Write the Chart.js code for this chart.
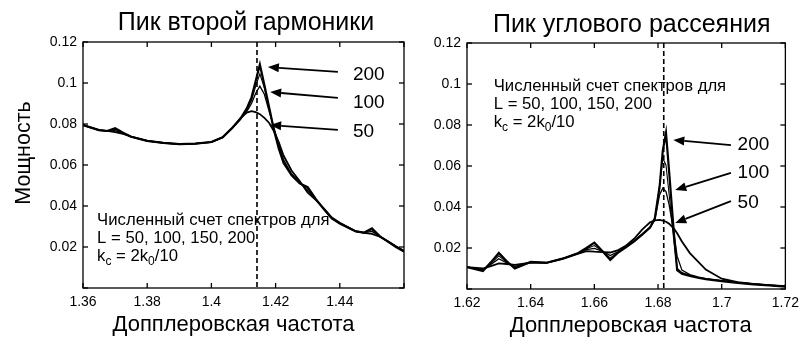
<!DOCTYPE html>
<html><head><meta charset="utf-8">
<script src="https://cdn.jsdelivr.net/npm/chart.js@4"></script>
<style>
html,body{margin:0;padding:0;background:#fff;}
#wrap{position:relative;width:805px;height:339px;overflow:hidden;background:#fff;}
#c1{position:absolute;left:0;top:0;}
#c2{position:absolute;left:410px;top:0;}
</style></head><body>
<div id="wrap"><canvas id="c1" width="410" height="339"></canvas><canvas id="c2" width="395" height="339"></canvas></div>
<script>
// ---------------- DATA ----------------
const leftTitle = 'Пик второй гармоники';
const rightTitle = 'Пик углового рассеяния';
const xTitle = 'Допплеровская частота';
const yTitle = 'Мощность';
const seriesNames = ['L=50', 'L=100', 'L=150', 'L=200'];
const yTickLabels = ['0.02', '0.04', '0.06', '0.08', '0.1', '0.12'];
const leftXTickLabels = ['1.36', '1.38', '1.4', '1.42', '1.44'];
const rightXTickLabels = ['1.62', '1.64', '1.66', '1.68', '1.7', '1.72'];
const arrowLabels = ['200', '100', '50'];
const noteLine1 = 'Численный счет спектров для';
const noteLine2 = 'L = 50, 100, 150, 200';
const noteLine3 = [['k', 0], ['c', 1], [' = 2k', 0], ['0', 1], ['/10', 0]];
const leftMarker = 1.4142;
const rightMarker = 1.6818;

const leftFreq = [1.36, 1.365, 1.3675, 1.37, 1.3725, 1.375, 1.38, 1.385, 1.39, 1.395, 1.40, 1.4035, 1.4065, 1.409, 1.411, 1.4125, 1.4138, 1.4151, 1.4165, 1.418, 1.4195, 1.421, 1.4225, 1.425, 1.4275, 1.43, 1.4325, 1.435, 1.4375, 1.44, 1.4425, 1.445, 1.4475, 1.45, 1.4525, 1.455, 1.4575, 1.46];
const left200 = [0.0795, 0.0770, 0.0766, 0.0779, 0.0757, 0.0738, 0.0718, 0.0708, 0.0702, 0.0704, 0.0712, 0.0735, 0.0780, 0.0825, 0.0875, 0.0930, 0.1010, 0.1090, 0.0990, 0.0880, 0.0770, 0.0680, 0.0610, 0.0550, 0.0510, 0.0492, 0.0435, 0.0385, 0.0340, 0.0315, 0.0295, 0.0276, 0.0270, 0.0291, 0.0252, 0.0226, 0.0200, 0.0178];
const left150 = [0.0795, 0.0770, 0.0766, 0.0774, 0.0756, 0.0738, 0.0718, 0.0708, 0.0702, 0.0704, 0.0712, 0.0735, 0.0780, 0.0823, 0.0868, 0.0915, 0.0985, 0.1045, 0.0975, 0.0875, 0.0775, 0.0688, 0.0615, 0.0552, 0.0512, 0.0485, 0.0434, 0.0386, 0.0341, 0.0315, 0.0295, 0.0276, 0.0270, 0.0284, 0.0252, 0.0226, 0.0201, 0.0179];
const left100 = [0.0795, 0.0770, 0.0766, 0.0768, 0.0754, 0.0738, 0.0718, 0.0708, 0.0702, 0.0704, 0.0712, 0.0735, 0.0780, 0.0822, 0.0860, 0.0900, 0.0950, 0.0985, 0.0945, 0.0860, 0.0780, 0.0698, 0.0625, 0.0556, 0.0515, 0.0476, 0.0433, 0.0387, 0.0342, 0.0316, 0.0296, 0.0276, 0.0270, 0.0276, 0.0252, 0.0227, 0.0202, 0.0180];
const left50 = [0.0795, 0.0770, 0.0766, 0.0760, 0.0752, 0.0738, 0.0718, 0.0708, 0.0702, 0.0704, 0.0712, 0.0735, 0.0782, 0.0828, 0.0856, 0.0863, 0.0858, 0.0848, 0.0830, 0.0805, 0.0765, 0.0710, 0.0645, 0.0572, 0.0522, 0.0465, 0.0430, 0.0388, 0.0344, 0.0318, 0.0297, 0.0277, 0.0269, 0.0264, 0.0250, 0.0228, 0.0204, 0.0182];

const rightFreq = [1.62, 1.625, 1.6275, 1.63, 1.6325, 1.635, 1.64, 1.645, 1.65, 1.655, 1.6575, 1.66, 1.6625, 1.665, 1.6675, 1.67, 1.6725, 1.675, 1.6775, 1.679, 1.6805, 1.6815, 1.6825, 1.6835, 1.685, 1.686, 1.6875, 1.69, 1.6925, 1.695, 1.70, 1.705, 1.71, 1.715, 1.72];
const right200 = [0.0107, 0.0088, 0.0130, 0.0176, 0.0135, 0.0100, 0.0132, 0.0128, 0.0148, 0.0176, 0.0200, 0.0226, 0.0185, 0.0142, 0.0178, 0.0205, 0.0232, 0.0265, 0.0300, 0.0345, 0.0500, 0.0675, 0.0762, 0.0570, 0.0270, 0.0092, 0.0075, 0.0064, 0.0055, 0.0048, 0.0038, 0.0030, 0.0023, 0.0017, 0.0012];
const right150 = [0.0107, 0.0091, 0.0125, 0.0162, 0.0130, 0.0105, 0.0132, 0.0128, 0.0148, 0.0176, 0.0196, 0.0212, 0.0185, 0.0152, 0.0180, 0.0205, 0.0232, 0.0266, 0.0300, 0.0340, 0.0505, 0.0638, 0.0605, 0.0460, 0.0230, 0.0102, 0.0080, 0.0066, 0.0057, 0.0050, 0.0040, 0.0031, 0.0024, 0.0018, 0.0013];
const right100 = [0.0107, 0.0094, 0.0120, 0.0148, 0.0127, 0.0110, 0.0131, 0.0128, 0.0148, 0.0175, 0.0192, 0.0198, 0.0185, 0.0163, 0.0182, 0.0206, 0.0234, 0.0268, 0.0302, 0.0335, 0.0460, 0.0492, 0.0475, 0.0410, 0.0270, 0.0160, 0.0092, 0.0070, 0.0059, 0.0051, 0.0041, 0.0032, 0.0025, 0.0019, 0.0014];
const right50 = [0.0107, 0.0100, 0.0112, 0.0125, 0.0122, 0.0118, 0.0128, 0.0128, 0.0147, 0.0172, 0.0185, 0.0182, 0.0180, 0.0178, 0.0190, 0.0212, 0.0245, 0.0290, 0.0325, 0.0335, 0.0337, 0.0334, 0.0328, 0.0318, 0.0295, 0.0272, 0.0232, 0.0175, 0.0135, 0.0095, 0.0050, 0.0033, 0.0025, 0.0019, 0.0014];

// ---------------- STYLE / LAYOUT ----------------
const FONT = "'Liberation Sans', Arial, Helvetica, sans-serif";
Chart.defaults.font.family = FONT;
Chart.defaults.color = '#000';
const lineWidths = [1.8, 1.3, 1.1, 2.2];

const decor = {
  id: 'decor',
  afterDatasetsDraw(chart, args, o) {
    const {ctx, chartArea: a, scales: {x, y}} = chart;
    const px = v => x.getPixelForValue(v), py = v => y.getPixelForValue(v);
    ctx.save();
    ctx.strokeStyle = '#000'; ctx.fillStyle = '#000';
    const line = (x1, y1, x2, y2) => { ctx.beginPath(); ctx.moveTo(x1, y1); ctx.lineTo(x2, y2); ctx.stroke(); };
    // frame
    ctx.lineWidth = 1.3;
    ctx.strokeRect(a.left, a.top, a.right - a.left, a.bottom - a.top);
    // inward ticks
    const tl = 5;
    x.ticks.forEach(t => { const p = px(t.value); line(p, a.bottom, p, a.bottom - tl); line(p, a.top, p, a.top + tl); });
    y.ticks.forEach(t => { const p = py(t.value); line(a.left, p, a.left + tl, p); line(a.right, p, a.right - tl, p); });
    // dashed marker
    ctx.setLineDash([5, 3]); ctx.lineWidth = 1.6;
    line(px(o.marker), a.top, px(o.marker), a.bottom);
    ctx.setLineDash([]);
    // arrows
    ctx.lineWidth = 1.8;
    o.arrows.forEach((ar, i) => {
      const x1 = px(ar.from[0]), y1 = py(ar.from[1]), x2 = px(ar.to[0]), y2 = py(ar.to[1]);
      const ang = Math.atan2(y2 - y1, x2 - x1), L = 11, W = 4.5;
      const bx = x2 - L * Math.cos(ang), by = y2 - L * Math.sin(ang);
      line(x1, y1, bx, by);
      ctx.beginPath(); ctx.moveTo(x2, y2);
      ctx.lineTo(bx + W * Math.sin(ang), by - W * Math.cos(ang));
      ctx.lineTo(bx - W * Math.sin(ang), by + W * Math.cos(ang));
      ctx.closePath(); ctx.fill();
      ctx.font = '19px ' + FONT; ctx.textBaseline = 'middle'; ctx.textAlign = 'left';
      ctx.fillText(arrowLabels[i], px(ar.label[0]), py(ar.label[1]));
    });
    // note
    const nf = 16.7;
    ctx.font = nf + 'px ' + FONT; ctx.textBaseline = 'middle'; ctx.textAlign = 'left';
    const nx = px(o.note[0]); let ny = py(o.note[1]);
    ctx.fillText(noteLine1, nx, ny); ny += 18;
    ctx.fillText(noteLine2, nx, ny); ny += 18;
    let cx = nx;
    noteLine3.forEach(([s, sub]) => {
      ctx.font = (sub ? '12px ' : nf + 'px ') + FONT;
      ctx.fillText(s, cx, ny + (sub ? 6 : 0));
      cx += ctx.measureText(s).width;
    });
    // titles (real text)
    const mid = (a.left + a.right) / 2;
    ctx.textAlign = 'center'; ctx.textBaseline = 'alphabetic';
    ctx.font = '25px ' + FONT;
    ctx.fillText(o.title, mid + o.titleDx, o.titleBase);
    ctx.font = '22px ' + FONT;
    ctx.fillText(xTitle, mid + o.xTitleDx, o.xTitleBase);
    if (o.yTitle) {
      ctx.save();
      ctx.translate(o.yTitleX, (a.top + a.bottom) / 2 + o.yTitleDy);
      ctx.rotate(-Math.PI / 2);
      ctx.font = '21.5px ' + FONT; ctx.textBaseline = 'middle';
      ctx.fillText(yTitle, 0, 0);
      ctx.restore();
    }
    ctx.restore();
  }
};

function makeChart(id, freq, series, opts) {
  const datasets = series.map((vals, i) => ({
    label: seriesNames[i],
    data: freq.map((f, j) => ({x: f, y: vals[j]})),
    borderColor: '#000', borderWidth: lineWidths[i], pointRadius: 0, tension: 0, fill: false
  }));
  const fmt = v => String(+(+v).toFixed(2));
  return new Chart(document.getElementById(id), {
    type: 'line',
    data: {datasets},
    options: {
      responsive: false, animation: false, events: [],
      layout: {padding: {left: 0, right: opts.padRight, top: opts.areaTop, bottom: 0}},
      plugins: {
        legend: {display: false}, tooltip: {enabled: false}, title: {display: false},
        decor: {marker: opts.marker, arrows: opts.arrows, note: opts.note, title: opts.title,
          titleDx: opts.titleDx, titleBase: opts.titleBase, xTitleDx: opts.xTitleDx, xTitleBase: opts.xTitleBase,
          yTitle: opts.yTitle, yTitleX: 24, yTitleDy: -12}
      },
      scales: {
        x: {type: 'linear', min: opts.xmin, max: opts.xmax,
          afterFit(s) { s.height = opts.xH; },
          grid: {display: false, drawTicks: false}, border: {display: false},
          ticks: {stepSize: 0.02, padding: 6, font: {size: 14}, color: '#000', maxRotation: 0, autoSkip: false,
            callback: v => { const s = fmt(v); return opts.xLabels.includes(s) ? s : ''; }},
          title: {display: false}
        },
        y: {type: 'linear', min: 0, max: 0.12,
          afterFit(s) { s.width = opts.yW; },
          grid: {display: false, drawTicks: false}, border: {display: false},
          ticks: {stepSize: 0.02, padding: 6, font: {size: 14}, color: '#000',
            callback: v => { const s = fmt(v); return yTickLabels.includes(s) ? s : ''; }},
          title: {display: false}
        }
      }
    },
    plugins: [decor]
  });
}

makeChart('c1', leftFreq, [left50, left100, left150, left200], {
  title: leftTitle, titleDx: 2.5, titleBase: 30, xTitleDx: -10, xTitleBase: 331,
  areaTop: 42, padRight: 6, xmin: 1.36, xmax: 1.46, xH: 51, yW: 83, yTitle: true,
  xLabels: leftXTickLabels, marker: leftMarker,
  arrows: [
    {from: [1.4394, 0.1054], to: [1.4176, 0.1078], label: [1.4441, 0.1039]},
    {from: [1.4394, 0.0927], to: [1.4183, 0.0956], label: [1.4441, 0.0902]},
    {from: [1.4394, 0.0771], to: [1.4183, 0.0795], label: [1.4441, 0.0761]}
  ],
  note: [1.3644, 0.0332]
});
makeChart('c2', rightFreq, [right50, right100, right150, right200], {
  title: rightTitle, titleDx: 5.5, titleBase: 32, xTitleDx: 4.5, xTitleBase: 332,
  areaTop: 43, padRight: 17, xmin: 1.62, xmax: 1.72, xH: 50, yW: 57, yTitle: false,
  xLabels: rightXTickLabels, marker: rightMarker,
  arrows: [
    {from: [1.7029, 0.0702], to: [1.6848, 0.0727], label: [1.7050, 0.0702]},
    {from: [1.7029, 0.0566], to: [1.6854, 0.0483], label: [1.7050, 0.0566]},
    {from: [1.7029, 0.0429], to: [1.6854, 0.0322], label: [1.7050, 0.0420]}
  ],
  note: [1.6284, 0.0990]
});
</script>
</body></html>
